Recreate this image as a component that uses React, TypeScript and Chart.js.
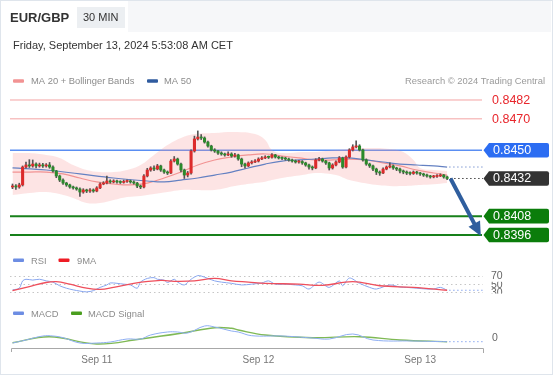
import React, { useEffect, useRef } from "react";
import { Chart, registerables } from "chart.js";

Chart.register(...registerables);

// ---------- DATA ----------
const firstOpen = 0.84266;
const closes = [
  0.84272, 0.84266, 0.84279, 0.84393, 0.84406, 0.844, 0.84412, 0.844, 0.84406, 0.844,
  0.84406, 0.84393, 0.84368, 0.84336, 0.8431, 0.84291, 0.84279, 0.84266, 0.8426, 0.84253,
  0.84234, 0.84247, 0.8424, 0.84247, 0.8424, 0.8426, 0.84285, 0.84291, 0.84304, 0.84298,
  0.84304, 0.84298, 0.84295, 0.84301, 0.84304, 0.84298, 0.84291, 0.84272, 0.84266, 0.84336,
  0.84374, 0.84387, 0.8438, 0.844, 0.84374, 0.84361, 0.84355, 0.84431, 0.84444, 0.84412,
  0.84374, 0.84342, 0.84355, 0.84495, 0.84572, 0.84584, 0.84578, 0.84552, 0.84527, 0.84502,
  0.84495, 0.84482, 0.84476, 0.8447, 0.84476, 0.84463, 0.8447, 0.84444, 0.84412, 0.844,
  0.84419, 0.84425, 0.84431, 0.84444, 0.84451, 0.84457, 0.84455, 0.8447, 0.84457, 0.84451,
  0.84448, 0.84444, 0.84438, 0.84431, 0.84425, 0.84428, 0.84419, 0.84406, 0.84393, 0.84387,
  0.84438, 0.84444, 0.84431, 0.84419, 0.84387, 0.84406, 0.84425, 0.84451, 0.84393, 0.84457,
  0.84502, 0.84521, 0.84527, 0.84502, 0.84438, 0.84412, 0.844, 0.8438, 0.84361, 0.84355,
  0.8438, 0.84393, 0.844, 0.84387, 0.8438, 0.84368, 0.84361, 0.84355, 0.84352, 0.84361,
  0.84355, 0.84349, 0.84342, 0.84336, 0.8433, 0.84333, 0.84336, 0.84342, 0.8433, 0.8432,
];
const highs = [
  0.84285, 0.84282, 0.8429, 0.844, 0.84425, 0.8444, 0.84438, 0.8442, 0.84418, 0.84416,
  0.84415, 0.84422, 0.844, 0.84372, 0.84342, 0.84318, 0.84296, 0.84284, 0.84272, 0.84266,
  0.8426, 0.84255, 0.84252, 0.84256, 0.84254, 0.84268, 0.84292, 0.843, 0.84335, 0.84312,
  0.84312, 0.8431, 0.84306, 0.8431, 0.84312, 0.8431, 0.84305, 0.84296, 0.84278, 0.84345,
  0.84385, 0.84395, 0.844, 0.8441, 0.84405, 0.8438, 0.84368, 0.8444, 0.8446, 0.8445,
  0.84418, 0.8438, 0.84365, 0.84502, 0.8459, 0.84623, 0.846, 0.84585, 0.84558, 0.84532,
  0.8451, 0.845, 0.8449, 0.84482, 0.8449, 0.84484, 0.8448, 0.84475, 0.8445, 0.84418,
  0.84426, 0.84434, 0.8444, 0.84452, 0.8446, 0.84465, 0.84463, 0.84478, 0.84474, 0.84462,
  0.84458, 0.84455, 0.8445, 0.84444, 0.84438, 0.84436, 0.84434, 0.84424, 0.84412, 0.844,
  0.84446, 0.84455, 0.8445, 0.84436, 0.84424, 0.84414, 0.84432, 0.8446, 0.84456, 0.84465,
  0.8451, 0.84535, 0.8456, 0.84535, 0.84508, 0.84445, 0.84418, 0.84406, 0.84386, 0.84368,
  0.84388, 0.844, 0.8442, 0.84406, 0.84392, 0.84386, 0.84374, 0.84368, 0.84362, 0.84368,
  0.84366, 0.8436, 0.84354, 0.84348, 0.8434, 0.8434, 0.84345, 0.8435, 0.84346, 0.84335,
];
const lows = [
  0.84255, 0.8425, 0.84258, 0.84272, 0.84385, 0.8439, 0.84392, 0.84388, 0.84392, 0.8439,
  0.84392, 0.84385, 0.8436, 0.84325, 0.843, 0.84282, 0.8427, 0.84258, 0.84252, 0.84245,
  0.84205, 0.84226, 0.8423, 0.84232, 0.84232, 0.84235, 0.84255, 0.8428, 0.84285, 0.8429,
  0.84292, 0.8429, 0.84288, 0.8429, 0.84295, 0.8429, 0.84284, 0.84262, 0.84255, 0.8426,
  0.8433, 0.84366, 0.8437, 0.84375, 0.84365, 0.84352, 0.84345, 0.8435, 0.84425, 0.84405,
  0.84362, 0.8432, 0.8433, 0.84348, 0.84488, 0.84565, 0.84568, 0.84545, 0.8452, 0.84495,
  0.84486, 0.84474, 0.84468, 0.84462, 0.84465, 0.84455, 0.84456, 0.84436, 0.84395, 0.84385,
  0.84395, 0.84412, 0.8442, 0.84425, 0.8444, 0.84446, 0.84447, 0.8445, 0.8445, 0.84444,
  0.8444, 0.84436, 0.8443, 0.84424, 0.84418, 0.84418, 0.8441, 0.84398, 0.8438, 0.84375,
  0.84382, 0.84432, 0.84424, 0.8441, 0.84374, 0.8438, 0.844, 0.8442, 0.84385, 0.84388,
  0.8445, 0.84495, 0.84515, 0.84495, 0.8443, 0.84404, 0.8439, 0.8437, 0.84345, 0.8434,
  0.8435, 0.84375, 0.84388, 0.84378, 0.8437, 0.84355, 0.8435, 0.84345, 0.84342, 0.84346,
  0.84347, 0.8434, 0.84333, 0.84328, 0.84322, 0.84324, 0.84327, 0.84332, 0.84322, 0.84312,
];

const bandX = [0, 5, 10, 14, 18, 22, 26, 30, 34, 38, 42, 46, 50, 54, 60, 66, 72, 75, 77, 80, 86, 90, 96, 100, 106, 112, 116, 119, 121, 125, 129];
const bandUpper = [
  0.84482, 0.84482, 0.8447, 0.84451, 0.84406, 0.84374, 0.84361, 0.84361, 0.84374, 0.84406,
  0.8447, 0.84533, 0.84578, 0.84603, 0.8461, 0.84616, 0.84603, 0.84565, 0.84502, 0.84482,
  0.84489, 0.84489, 0.84502, 0.84508, 0.84514, 0.84508, 0.84489, 0.84438, 0.84387, 0.84374, 0.84368,
];
const bandLower = [
  0.84215, 0.84228, 0.84234, 0.84221, 0.84196, 0.84164, 0.84164, 0.84183, 0.84202, 0.84209,
  0.84221, 0.84234, 0.84247, 0.84247, 0.84247, 0.84272, 0.84291, 0.843, 0.8431, 0.84323,
  0.84342, 0.84355, 0.84342, 0.8431, 0.84285, 0.84272, 0.84272, 0.84275, 0.84278, 0.84283, 0.84291,
];

const ma20X = [0, 5, 10, 15, 20, 25, 30, 35, 40, 45, 50, 55, 60, 65, 70, 75, 80, 85, 90, 95, 100, 105, 110, 115, 120, 125, 129];
const ma20 = [
  0.84361, 0.84361, 0.84361, 0.84349, 0.84323, 0.84298, 0.84285, 0.84279, 0.84291, 0.84323,
  0.84361, 0.84406, 0.84438, 0.84457, 0.8447, 0.84476, 0.84463, 0.84451, 0.84438, 0.84438,
  0.84444, 0.84438, 0.84419, 0.844, 0.84374, 0.84355, 0.84342,
];
const ma50X = [0, 10, 20, 30, 40, 45, 50, 55, 60, 65, 70, 75, 80, 85, 90, 95, 100, 105, 110, 115, 120, 125, 129];
const ma50 = [
  0.84387, 0.84374, 0.84349, 0.84323, 0.84304, 0.84298, 0.8431, 0.84323, 0.84342, 0.84361,
  0.84387, 0.84412, 0.84431, 0.84438, 0.84444, 0.84451, 0.84451, 0.84438, 0.84425, 0.84412,
  0.84406, 0.844, 0.84393,
];

const rsiX = [0, 2, 3, 4, 6, 8, 10, 12, 14, 16, 18, 20, 22, 24, 26, 28, 29, 31, 33, 35, 37, 38, 40, 42, 43, 45, 46, 48, 49, 51, 53, 55, 56, 58, 60, 62, 65, 68, 71, 74, 76, 78, 81, 84, 86, 88, 91, 94, 97, 98, 100, 103, 106, 108, 112, 115, 117, 120, 123, 125, 127, 129];
const rsi = [36, 40, 58, 62, 60, 62, 58, 55, 46, 40, 36, 33, 31, 34, 42, 48, 53, 52, 50, 48, 40, 55, 64, 66, 62, 60, 54, 62, 55, 48, 62, 71, 70, 64, 58, 55, 52, 48, 50, 53, 58, 50, 50, 48, 46, 38, 55, 42, 58, 46, 65, 52, 42, 38, 48, 43, 42, 40, 38, 38, 42, 35];
const rsiMaX = [0, 5, 10, 13, 17, 22, 26, 30, 36, 44, 48, 54, 60, 65, 70, 75, 85, 92, 101, 109, 119, 129];
const rsiMa = [34, 44, 54, 56, 50, 40, 37, 42, 52, 59, 57, 58, 64, 58, 55, 52, 50, 47, 56, 46, 42, 35];
const rsiLevels = [70, 50, 30];

const macdX = [0, 4, 9, 12, 15, 20, 25, 29, 34, 38, 41, 46, 49, 52, 57, 60, 65, 67, 71, 80, 89, 94, 101, 107, 119, 129];
const macd = [-0.00005, -0.00002, 0.00002, 0.00002, 0.000003, -0.00005, -0.00005, -0.00004, -0.00001, -0.00001, 0.00003, 0.00006, 0.00006, 0.00005, 0.00012, 0.00011, 0.00007, 0.00006, 0.000023, 0.00002, 0, -0.00001, 0.00004, -0.00002, -0.00003, -0.000037];
const signalX = [0, 11, 25, 38, 50, 60, 65, 67, 75, 89, 103, 115, 129];
const signal = [-0.000047, 0.000013, -0.00006, -0.00001, 0.000047, 0.000103, 0.000097, 0.00008, 0.00003, 0.000003, 0.000013, -0.00002, -0.000037];
const macdZero = [0];

const dayTicks = [25, 73, 121];
const dayLabels = ["Sep 11", "Sep 12", "Sep 13"];

const levelValues = [0.8482, 0.847, 0.845, 0.8408, 0.8396];
const levelKinds = ["red", "red", "blue", "green", "green"];
const targetPrice = 0.8396;

const opens = closes.map((c, i) => (i === 0 ? firstOpen : closes[i - 1]));
const lastIndex = closes.length - 1;

// ---------- STYLE ----------
const FONT = '"Liberation Sans", Arial, sans-serif';
const UP = "#dc2b2b";
const DOWN = "#2b8a2b";

function pts(xs: number[], ys: number[]) {
  return xs.map((x, i) => ({ x, y: ys[i] }));
}

function drawTag(ctx: CanvasRenderingContext2D, y: number, color: string, text: string) {
  const x0 = 483.5, x1 = 489, x2 = 549, h = 7.3;
  ctx.beginPath();
  ctx.moveTo(x0, y);
  ctx.lineTo(x1, y - h);
  ctx.lineTo(x2 - 2, y - h);
  ctx.quadraticCurveTo(x2, y - h, x2, y - h + 2);
  ctx.lineTo(x2, y + h - 2);
  ctx.quadraticCurveTo(x2, y + h, x2 - 2, y + h);
  ctx.lineTo(x1, y + h);
  ctx.closePath();
  ctx.fillStyle = color;
  ctx.fill();
  ctx.fillStyle = "#ffffff";
  ctx.font = `12.5px ${FONT}`;
  ctx.textBaseline = "middle";
  ctx.textAlign = "left";
  ctx.fillText(text, 493, y + 0.5);
}

function swatch(ctx: CanvasRenderingContext2D, x: number, y: number, color: string) {
  ctx.fillStyle = color;
  ctx.beginPath();
  (ctx as any).roundRect ? (ctx as any).roundRect(x, y, 11, 3.6, 1) : ctx.rect(x, y, 11, 3.6);
  ctx.fill();
}

const overlay = {
  id: "overlay",
  beforeDatasetsDraw(chart: any) {
    const { ctx, chartArea: ca, scales } = chart;
    const y = scales.y, yr = scales.yr;
    ctx.save();
    // faint header strip
    ctx.fillStyle = "#f6f7f9";
    ctx.fillRect(128, 1, 423, 31);
    // RSI reference lines
    ctx.strokeStyle = "#c6c6c6";
    ctx.lineWidth = 1;
    ctx.setLineDash([1.5, 3]);
    rsiLevels.forEach((v) => {
      const py = Math.round(yr.getPixelForValue(v)) + 0.5;
      ctx.beginPath();
      ctx.moveTo(ca.left - 1, py);
      ctx.lineTo(ca.right, py);
      ctx.stroke();
    });
    ctx.setLineDash([]);
    // price levels
    levelValues.forEach((v, k) => {
      const kind = levelKinds[k];
      const py = y.getPixelForValue(v);
      ctx.beginPath();
      if (kind === "red") { ctx.strokeStyle = "#f4a3a3"; ctx.lineWidth = 1; }
      else if (kind === "blue") { ctx.strokeStyle = "#5a8ef2"; ctx.lineWidth = 1.6; }
      else { ctx.strokeStyle = "#17801a"; ctx.lineWidth = 2; }
      ctx.moveTo(ca.left - 1, py);
      ctx.lineTo(ca.right - 1, py);
      ctx.stroke();
    });
    ctx.restore();
  },
  afterDatasetsDraw(chart: any) {
    const { ctx, chartArea: ca, scales } = chart;
    const x = scales.x, y = scales.y, yr = scales.yr, ym = scales.ym;
    ctx.save();
    const lastX = x.getPixelForValue(lastIndex);
    const lastClose = closes[lastIndex];

    // dotted projections
    ctx.setLineDash([1.5, 2.5]);
    ctx.lineWidth = 1;
    const dotted = (val: number, sc: any, color: string, fromX: number) => {
      const py = sc.getPixelForValue(val);
      ctx.strokeStyle = color;
      ctx.beginPath();
      ctx.moveTo(fromX, py);
      ctx.lineTo(ca.right, py);
      ctx.stroke();
    };
    dotted(ma50[ma50.length - 1], y, "#7f99d2", lastX + 2);
    dotted(lastClose, y, "#444444", lastX + 3);
    dotted(rsi[rsi.length - 1], yr, "#8aa8f0", lastX + 2);
    dotted(macd[macd.length - 1], ym, "#8aa8f0", lastX + 2);
    ctx.setLineDash([]);

    // forecast arrow
    const sx = x.getPixelForValue(lastIndex + 1), sy = y.getPixelForValue(lastClose);
    const tx = x.getPixelForValue(139), ty = y.getPixelForValue(targetPrice) + 1;
    const dx = tx - sx, dy = ty - sy, len = Math.hypot(dx, dy);
    const ux = dx / len, uy = dy / len;
    const hl = 14, hw = 6.5;
    ctx.strokeStyle = "#2f5e9e";
    ctx.fillStyle = "#2f5e9e";
    ctx.lineWidth = 4;
    ctx.beginPath();
    ctx.moveTo(sx, sy);
    ctx.lineTo(tx - ux * (hl - 2), ty - uy * (hl - 2));
    ctx.stroke();
    ctx.beginPath();
    ctx.moveTo(tx, ty);
    ctx.lineTo(tx - ux * hl - uy * hw, ty - uy * hl + ux * hw);
    ctx.lineTo(tx - ux * hl + uy * hw, ty - uy * hl - ux * hw);
    ctx.closePath();
    ctx.fill();

    // price tags
    levelValues.forEach((v, k) => {
      const kind = levelKinds[k];
      const py = y.getPixelForValue(v);
      if (kind === "red") {
        ctx.fillStyle = "#e8262c";
        ctx.font = `12.5px ${FONT}`;
        ctx.textBaseline = "middle";
        ctx.textAlign = "left";
        ctx.fillText(v.toFixed(4), 492, py + 0.5);
      } else if (kind === "blue") {
        drawTag(ctx, py, "#2c6df2", v.toFixed(4));
      } else {
        drawTag(ctx, py, "#0b7d0b", v.toFixed(4));
      }
    });
    drawTag(ctx, y.getPixelForValue(lastClose), "#333333", lastClose.toFixed(4));

    // RSI / MACD axis labels
    ctx.font = `10.5px ${FONT}`;
    ctx.textBaseline = "middle";
    ctx.textAlign = "left";
    ctx.fillStyle = "#666666";
    ctx.fillText(String(rsiLevels[1]), 491, yr.getPixelForValue(rsiLevels[1]) + 0.5);
    ctx.fillText(String(rsiLevels[2]), 491, yr.getPixelForValue(rsiLevels[2]) + 0.5);
    ctx.fillStyle = "#ffffff";
    ctx.fillRect(486, yr.getPixelForValue(rsiLevels[2]) + 1.3, 28, 7);
    ctx.fillRect(486, yr.getPixelForValue(rsiLevels[0]) - 6, 28, 11.8);
    ctx.fillStyle = "#666666";
    ctx.fillText(String(rsiLevels[0]), 491, yr.getPixelForValue(rsiLevels[0]) + 0.5);
    ctx.fillText(String(macdZero[0]), 492, ym.getPixelForValue(macdZero[0]));

    // bottom axis
    ctx.strokeStyle = "#a8a8a8";
    ctx.lineWidth = 1;
    ctx.beginPath();
    ctx.moveTo(ca.left + 0.5, ca.bottom + 4);
    ctx.lineTo(ca.left + 0.5, ca.bottom + 0.5);
    ctx.lineTo(ca.right + 0.5, ca.bottom + 0.5);
    ctx.lineTo(ca.right + 0.5, ca.bottom + 5);
    ctx.stroke();
    ctx.font = `10px ${FONT}`;
    ctx.fillStyle = "#777777";
    ctx.textAlign = "center";
    ctx.textBaseline = "alphabetic";
    dayTicks.forEach((t, k) => {
      ctx.fillText(dayLabels[k], x.getPixelForValue(t), ca.bottom + 15);
    });

    // header
    ctx.textAlign = "left";
    ctx.fillStyle = "#333333";
    ctx.font = `bold 13px ${FONT}`;
    ctx.fillText("EUR/GBP", 10, 22);
    ctx.fillStyle = "#eceff2";
    ctx.fillRect(77, 7, 48, 21);
    ctx.fillStyle = "#333333";
    ctx.font = `11px ${FONT}`;
    ctx.fillText("30 MIN", 83, 21);
    ctx.fillText("Friday, September 13, 2024 5:53:08 AM CET", 13, 49);

    // legends
    ctx.font = `9.4px ${FONT}`;
    ctx.fillStyle = "#8c8c8c";
    swatch(ctx, 13, 79.2, "#f29393");
    ctx.fillStyle = "#8c8c8c";
    ctx.fillText("MA 20 + Bollinger Bands", 31, 84);
    swatch(ctx, 147, 79.2, "#2f5b9f");
    ctx.fillStyle = "#8c8c8c";
    ctx.fillText("MA 50", 164, 84);
    ctx.textAlign = "right";
    ctx.fillStyle = "#9a9a9a";
    ctx.fillText("Research \u00a9 2024 Trading Central", 545, 84);
    ctx.textAlign = "left";

    swatch(ctx, 13, 258.5, "#6d8de3");
    ctx.fillStyle = "#8c8c8c";
    ctx.fillText("RSI", 31, 263.5);
    swatch(ctx, 58.5, 258.5, "#ee1c25");
    ctx.fillStyle = "#8c8c8c";
    ctx.fillText("9MA", 77, 263.5);

    swatch(ctx, 13, 311.5, "#6d8de3");
    ctx.fillStyle = "#8c8c8c";
    ctx.fillText("MACD", 31, 316.5);
    swatch(ctx, 71, 311.5, "#4a9e1e");
    ctx.fillStyle = "#8c8c8c";
    ctx.fillText("MACD Signal", 88, 316.5);

    // frame
    ctx.strokeStyle = "#dfe5ec";
    ctx.lineWidth = 1;
    ctx.strokeRect(0.5, 0.5, 552, 374);
    ctx.restore();
  },
};

export default function App() {
  const ref = useRef<HTMLCanvasElement>(null);
  useEffect(() => {
    const canvas = ref.current;
    if (!canvas) return;
    const line = (data: any[], color: string, width: number, axis: string, order: number, tension = 0.35) => ({
      type: "line" as const,
      data,
      yAxisID: axis,
      borderColor: color,
      borderWidth: width,
      pointRadius: 0,
      tension,
      fill: false,
      order,
    });
    const chart = new Chart(canvas, {
      type: "line",
      data: {
        datasets: [
          {
            type: "bar",
            data: closes.map((c, i) => ({ x: i, y: [opens[i], c] })),
            yAxisID: "y",
            barThickness: 2.4,
            minBarLength: 1,
            grouped: false,
            borderWidth: 0,
            backgroundColor: (c: any) => (closes[c.dataIndex] >= opens[c.dataIndex] ? UP : DOWN),
            order: 0,
          } as any,
          {
            type: "bar",
            data: closes.map((_, i) => ({ x: i, y: [lows[i], highs[i]] })),
            yAxisID: "y",
            barThickness: 1,
            grouped: false,
            borderWidth: 0,
            backgroundColor: "#555555",
            order: 1,
          } as any,
          line(pts(ma50X, ma50), "#6481c2", 1.2, "y", 2, 0.4),
          line(pts(ma20X, ma20), "rgba(238,120,120,0.75)", 1.2, "y", 3, 0.4),
          {
            type: "line",
            data: pts(bandX, bandUpper),
            yAxisID: "y",
            borderWidth: 0,
            borderColor: "rgba(0,0,0,0)",
            pointRadius: 0,
            tension: 0.4,
            fill: "+1",
            backgroundColor: "rgba(248,150,150,0.26)",
            order: 5,
          } as any,
          {
            type: "line",
            data: pts(bandX, bandLower),
            yAxisID: "y",
            borderWidth: 0,
            borderColor: "rgba(0,0,0,0)",
            pointRadius: 0,
            tension: 0.4,
            fill: false,
            order: 6,
          } as any,
          line(pts(rsiX, rsi), "#88a6ef", 1, "yr", 8, 0.3),
          line(pts(rsiMaX, rsiMa), "#ef4f5c", 1.3, "yr", 7, 0.4),
          line(pts(macdX, macd), "#8eaef3", 1, "ym", 9, 0.4),
          line(pts(signalX, signal), "#7fb955", 1.4, "ym", 10, 0.4),
        ],
      },
      options: {
        animation: false,
        responsive: false,
        maintainAspectRatio: false,
        devicePixelRatio: 1,
        events: [],
        layout: { padding: { left: 11, right: 70, top: 90, bottom: 27 } },
        plugins: { legend: { display: false }, tooltip: { enabled: false } },
        scales: {
          x: { type: "linear", display: false, min: -0.45, max: 139.65, offset: false },
          y: { type: "linear", display: false, min: 0.832402, max: 0.848837 },
          yr: { type: "linear", display: false, min: -106.7, max: 526.4 },
          ym: { type: "linear", display: false, min: -0.0001, max: 0.00248 },
        },
      } as any,
      plugins: [overlay],
    });
    return () => chart.destroy();
  }, []);
  return (
    <div style={{ position: "fixed", left: 0, top: 0, width: 553, height: 375, background: "#ffffff" }}>
      <canvas ref={ref} width={553} height={375} style={{ display: "block", width: 553, height: 375 }} />
    </div>
  );
}
